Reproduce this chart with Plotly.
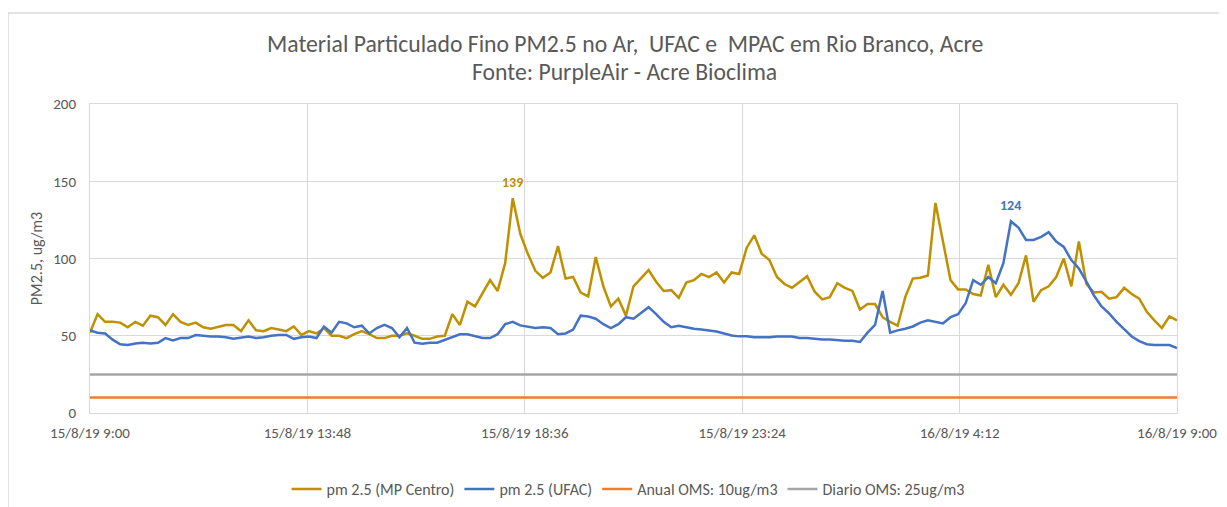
import pandas as pd
import plotly.graph_objects as go

# ---- data (10-minute readings, 15/8/19 9:00 -> 16/8/19 9:00) ----
start_time = "2019-08-15 09:00"
step = "10min"

mp_centro = [
    52, 64, 59, 59, 58.5, 55.5, 59, 56.5, 63, 62,
    57, 64, 59, 57, 58.5, 55.5, 54.5, 56, 57, 57,
    53, 60, 53.5, 53, 55, 54, 53, 56, 50.5, 53,
    51.5, 55, 50, 50, 48.5, 51, 53, 51, 48.5, 48.5,
    50, 50, 51.5, 50, 48, 48, 49.5, 50, 64, 57,
    72, 69, 78, 86, 79, 97, 139, 116, 103, 92,
    87.5, 91, 108, 87, 88, 78, 75.5, 101, 82, 69,
    74, 63, 82, 87.5, 92.5, 85, 79, 79.5, 74.5, 84.5,
    86, 90, 88, 91, 84.5, 91, 90, 107, 115, 103,
    99, 88, 83.5, 81, 85, 88.5, 78.5, 73.5, 75, 84,
    81, 79, 67, 70.5, 70.5, 62, 59, 56.5, 75, 87,
    87.5, 89, 136, 112, 86, 80, 80, 77, 76, 96,
    75, 83, 76.5, 84, 102, 72, 79.5, 82, 88, 100,
    82, 111, 83.5, 78, 78.5, 74, 75, 81, 77, 74,
    65.5, 60, 55, 62.5, 60,
]

ufac = [
    53.5, 52, 51.5, 47.5, 44.5, 44, 45, 45.5, 45, 45.5,
    48.5, 47, 48.5, 48.5, 50.5, 50, 49.5, 49.5, 49, 48,
    49, 49.5, 48.5, 49, 50, 50.5, 50.5, 48, 49, 49.5,
    48.5, 56, 52, 59, 58, 55.5, 56.5, 51.5, 55, 57,
    55, 49, 55, 45.5, 44.8, 45.5, 45.5, 47.5, 49.5, 51,
    51, 49.5, 48.5, 48.5, 51, 57.5, 59, 56.7, 56, 55,
    55.5, 55, 51, 51.5, 54, 63, 62.5, 61, 57.5, 55,
    57.5, 62, 61, 64.5, 68.5, 64, 59, 55.5, 56.5, 55.5,
    54.5, 54, 53.5, 52.8, 51.5, 50.2, 49.6, 49.6, 49, 49,
    49, 49.5, 49.5, 49.5, 48.5, 48.5, 48, 47.5, 47.5, 47,
    46.8, 46.8, 46, 52, 57, 79, 52, 53.5, 54.5, 56,
    58.5, 60, 59, 58, 62, 64, 71, 86, 83, 88,
    84, 97, 124, 120, 112, 112, 114, 117, 111, 107.5,
    99, 93.5, 85, 76, 69, 64.5, 59, 54.5, 49.5, 46.5,
    44.5, 44, 44, 44, 42,
]

anual_oms = 10
diario_oms = 25

series_names = ["pm 2.5 (MP Centro)", "pm 2.5 (UFAC)", "Anual OMS: 10ug/m3", "Diario OMS: 25ug/m3"]
series_colors = ["#BF9000", "#4472C4", "#ED7D31", "#A5A5A5"]

y_ticks = [0, 50, 100, 150, 200]
x_tick_count = 6
x_tick_step = "288min"

title_line1 = "Material Particulado Fino PM2.5 no Ar,  UFAC e  MPAC em Rio Branco, Acre"
title_line2 = "Fonte: PurpleAir - Acre Bioclima"
y_title = "PM2.5, ug/m3"

# ---- build ----
times = pd.date_range(start_time, periods=len(mp_centro), freq=step)
tick_times = pd.date_range(start_time, periods=x_tick_count, freq=x_tick_step)
tick_text = [f"{t.day}/{t.month}/{t.strftime('%y')} {t.hour}:{t.minute:02d}" for t in tick_times]

FONT = "Carlito, Calibri, Lato, Liberation Sans, sans-serif"
TXT = "#595959"

fig = go.Figure()
fig.add_trace(go.Scatter(x=times, y=mp_centro, mode="lines", name=series_names[0],
                         line=dict(color=series_colors[0], width=2.5)))
fig.add_trace(go.Scatter(x=times, y=ufac, mode="lines", name=series_names[1],
                         line=dict(color=series_colors[1], width=2.5)))
fig.add_trace(go.Scatter(x=times, y=[anual_oms] * len(times), mode="lines", name=series_names[2],
                         line=dict(color=series_colors[2], width=2.5)))
fig.add_trace(go.Scatter(x=times, y=[diario_oms] * len(times), mode="lines", name=series_names[3],
                         line=dict(color=series_colors[3], width=2.5)))

# peak labels
i1 = max(range(len(mp_centro)), key=lambda i: mp_centro[i])
i2 = max(range(len(ufac)), key=lambda i: ufac[i])
fig.add_annotation(x=times[i1], y=mp_centro[i1], text=f"<b>{mp_centro[i1]:.0f}</b>", showarrow=False,
                   yshift=16, font=dict(family=FONT, size=14, color=series_colors[0]))
fig.add_annotation(x=times[i2], y=ufac[i2], text=f"<b>{ufac[i2]:.0f}</b>", showarrow=False,
                   yshift=16, font=dict(family=FONT, size=14, color=series_colors[1]))

# titles
fig.add_annotation(xref="paper", yref="paper", x=0.492, y=(413 - 43) / 309, text=title_line1,
                   showarrow=False, yanchor="middle", font=dict(family=FONT, size=23.7, color=TXT))
fig.add_annotation(xref="paper", yref="paper", x=0.492, y=(413 - 72) / 309, text=title_line2,
                   showarrow=False, yanchor="middle", font=dict(family=FONT, size=23.7, color=TXT))

# outer chart border
fig.add_shape(type="rect", xref="paper", yref="paper",
              x0=(8 - 90) / 1087, x1=(1240 - 90) / 1087,
              y0=(413 - 520) / 309, y1=(413 - 13) / 309,
              line=dict(color="#D9D9D9", width=1.5), fillcolor="rgba(0,0,0,0)", layer="below")

fig.update_layout(
    width=1227, height=507,
    margin=dict(l=82, r=58, t=96, b=102, autoexpand=False),
    paper_bgcolor="white", plot_bgcolor="white",
    font=dict(family=FONT, size=15, color=TXT),
    showlegend=True,
    legend=dict(orientation="h", xref="paper", x=0.495, xanchor="center",
                yref="container", y=1 - (489 - 8) / 507, yanchor="middle",
                font=dict(family=FONT, size=16, color=TXT)),
    hovermode=False,
)
fig.update_xaxes(
    type="date", range=[tick_times[0], tick_times[-1]],
    tickmode="array", tickvals=list(tick_times), ticktext=tick_text,
    showgrid=True, gridcolor="#D9D9D9", gridwidth=1,
    showline=True, linecolor="#D9D9D9", linewidth=1, mirror=True,
    ticks="", ticklabelstandoff=6, tickfont=dict(family=FONT, size=15, color=TXT), zeroline=False,
)
fig.update_yaxes(
    range=[0, 200], tickmode="array", tickvals=y_ticks,
    showgrid=True, gridcolor="#D9D9D9", gridwidth=1,
    showline=True, linecolor="#D9D9D9", linewidth=1, mirror=True,
    ticks="", ticklabelstandoff=10, tickfont=dict(family=FONT, size=15, color=TXT), zeroline=False,
    title=dict(text=y_title, font=dict(family=FONT, size=16, color=TXT), standoff=6),
)

fig.write_html("out.html")
